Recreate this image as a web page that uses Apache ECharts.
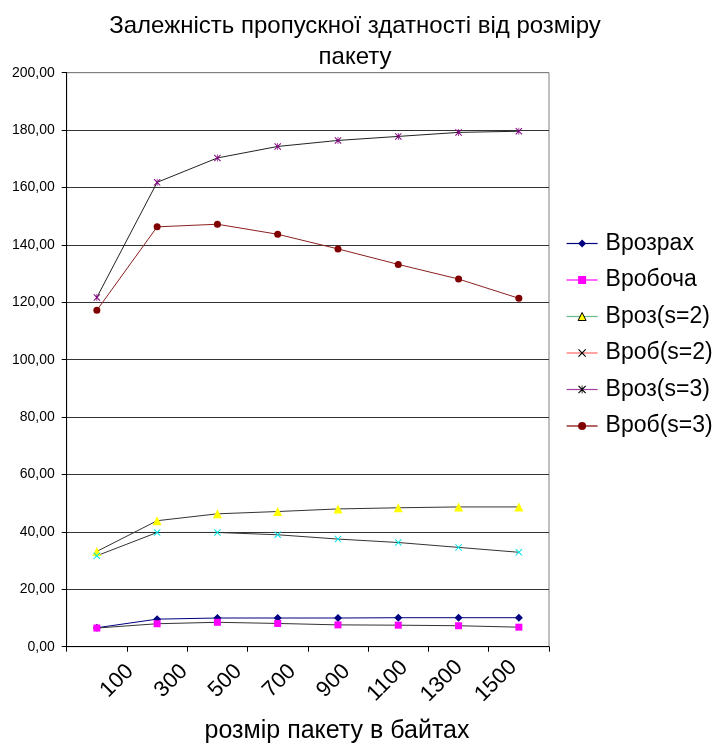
<!DOCTYPE html>
<html>
<head>
<meta charset="utf-8">
<script src="https://cdn.jsdelivr.net/npm/echarts@6/dist/echarts.min.js"></script>
<style>
html,body{margin:0;padding:0;background:#fff;}
#chart{width:724px;height:749px;}
</style>
</head>
<body>
<div id="chart"></div>
<script>
const xLabels = ['100','300','500','700','900','1100','1300','1500'];
const vrozrah = [6.6, 9.6, 10.0, 10.0, 10.0, 10.1, 10.1, 10.1];
const vrobocha = [6.5, 8.0, 8.5, 8.1, 7.6, 7.5, 7.3, 6.8];
const vrozS2 = [33.2, 43.9, 46.3, 47.1, 48.0, 48.4, 48.7, 48.7];
const vrobS2 = [31.7, 39.8, 39.8, 39.0, 37.5, 36.3, 34.6, 32.9];
const vrozS3 = [121.7, 161.8, 170.3, 174.3, 176.4, 177.8, 179.2, 179.6];
const vrobS3 = [117.2, 146.3, 147.2, 143.7, 138.6, 133.2, 128.1, 121.4];
const seriesNames = ['Врозрах','Вробоча','Вроз(s=2)','Вроб(s=2)','Вроз(s=3)','Вроб(s=3)'];
const yMin = 0, yMax = 200, yStep = 20;

const FONT = "'Liberation Sans', Arial, sans-serif";
const X_SYM = 'path://M0,1L1,0L5,4L9,0L10,1L6,5L10,9L9,10L5,6L1,10L0,9L4,5Z';
const STAR_SYM = 'path://M0,1L1,0L4.5,3.5L4.5,0L5.5,0L5.5,3.5L9,0L10,1L6,5L10,9L9,10L5.5,6.5L5.5,10L4.5,10L4.5,6.5L1,10L0,9L4,5Z';

const chart = echarts.init(document.getElementById('chart'), null, {renderer:'canvas'});

function mk(name, data, lineColor, symbol, symColor, size){
  return {
    name: name, type: 'line', data: data,
    xAxisIndex: 0, yAxisIndex: 0,
    symbol: symbol, symbolSize: size, showSymbol: true,
    lineStyle: {color: lineColor, width: 1},
    itemStyle: {color: symColor},
    emphasis: {disabled: true},
    animation: false, z: 3
  };
}

const gridColors = [];
for (let v = yMin; v <= yMax; v += yStep) gridColors.push(v === yMax ? '#808080' : '#333333');

const option = {
  animation: false,
  backgroundColor: '#ffffff',
  textStyle: {fontFamily: FONT},
  title: {
    text: 'Залежність пропускної здатності від розміру\nпакету',
    left: 350, top: 6, textAlign: 'center',
    textStyle: {fontFamily: FONT, fontSize: 24, fontWeight: 'normal', color: '#000', lineHeight: 31}
  },
  legend: {
    orient: 'vertical', left: 561, top: 226,
    itemWidth: 31, itemHeight: 10, itemGap: 11.5,
    textStyle: {fontFamily: FONT, fontSize: 23, color: '#000', lineHeight: 25, padding: [0, 0, 0, 3]},
    selectedMode: false,
    data: [
      {name: 'Врозрах', itemStyle: {color: '#000080'}, lineStyle: {color: '#000080', width: 1.2}},
      {name: 'Вробоча', itemStyle: {color: '#ff00ff'}, lineStyle: {color: '#ff00ff', width: 1.2}},
      {name: 'Вроз(s=2)', itemStyle: {color: '#ffff00', borderColor: '#000', borderWidth: 1}, lineStyle: {color: '#66bb88', width: 1.2}},
      {name: 'Вроб(s=2)', itemStyle: {color: '#000'}, lineStyle: {color: '#ff6666', width: 1.2}},
      {name: 'Вроз(s=3)', itemStyle: {color: '#000'}, lineStyle: {color: '#a040a0', width: 1.2}},
      {name: 'Вроб(s=3)', itemStyle: {color: '#800000'}, lineStyle: {color: '#800000', width: 1.2}}
    ]
  },
  grid: [
    {left: 66.7, right: 175, top: 72.7, bottom: 102.3, show: true, borderColor: '#808080', borderWidth: 1, backgroundColor: 'transparent'},
    {left: 90, width: 433, top: 72.7, bottom: 102.3, show: false}
  ],
  xAxis: [
    {
      type: 'category', gridIndex: 0, data: xLabels, boundaryGap: true,
      axisLine: {show: true, lineStyle: {color: '#000', width: 1}},
      axisTick: {show: true, alignWithLabel: false, length: 5, lineStyle: {color: '#000'}},
      axisLabel: {show: false},
      splitLine: {show: false}
    },
    {
      type: 'category', gridIndex: 1, data: xLabels, boundaryGap: true,
      axisLine: {show: false}, axisTick: {show: false}, splitLine: {show: false},
      axisLabel: {show: true, interval: 0, rotate: 45, align: 'center', verticalAlign: 'middle', margin: 57,
        fontFamily: FONT, fontSize: 22, color: '#000'},
      name: 'розмір пакету в байтах', nameLocation: 'middle', nameGap: 95,
      nameTextStyle: {fontFamily: FONT, fontSize: 25, color: '#000', padding: [0, 0, 0, 61]}
    }
  ],
  yAxis: [
    {
      type: 'value', gridIndex: 0, min: yMin, max: yMax, interval: yStep,
      axisLine: {show: true, lineStyle: {color: '#000', width: 1}},
      axisTick: {show: true, length: 5, lineStyle: {color: '#000'}},
      axisLabel: {show: true, margin: 12, fontFamily: FONT, fontSize: 14, color: '#000',
        formatter: function(v){ return v.toFixed(2).replace('.', ','); }},
      splitLine: {show: true, lineStyle: {color: gridColors, width: 1}}
    },
    {type: 'value', gridIndex: 1, min: yMin, max: yMax, show: false}
  ],
  series: [
    mk(seriesNames[0], vrozrah, '#000080', 'diamond', '#000080', 8),
    mk(seriesNames[1], vrobocha, '#333333', 'rect', '#ff00ff', 7),
    mk(seriesNames[2], vrozS2, '#333333', 'triangle', '#ffff00', 9),
    mk(seriesNames[3], vrobS2, '#333333', X_SYM, '#00e5e5', 7),
    mk(seriesNames[4], vrozS3, '#222222', STAR_SYM, '#800080', 7),
    mk(seriesNames[5], vrobS3, '#8b2020', 'circle', '#800000', 7)
  ]
};
chart.setOption(option);
</script>
</body>
</html>
